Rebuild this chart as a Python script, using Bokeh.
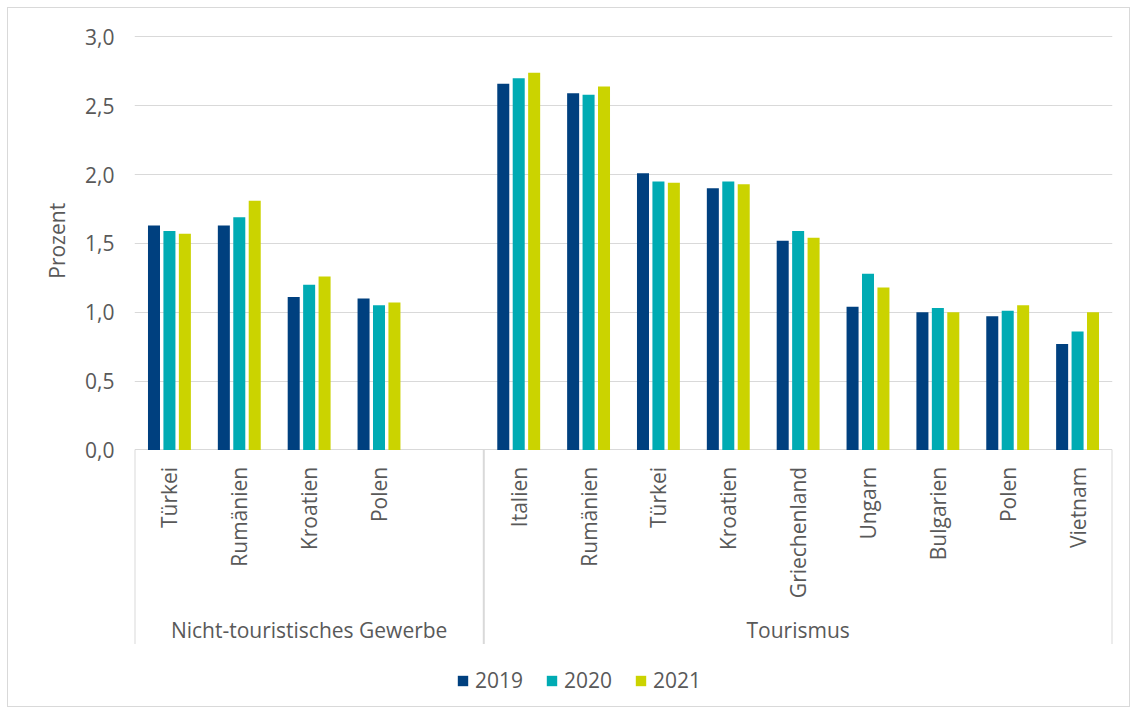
import math
from bokeh.plotting import figure
from bokeh.models import (Range1d, FixedTicker, ColumnDataSource, Legend, LegendItem,
                          CustomJSTickFormatter, Title)
from bokeh.core.properties import value
from bokeh.embed import file_html
from bokeh.resources import INLINE

# ---------------- data ----------------
groups = ["Nicht-touristisches Gewerbe", "Tourismus"]
cats_ntg = ["Türkei", "Rumänien", "Kroatien", "Polen", ""]   # last slot is blank in the original
cats_tour = ["Italien", "Rumänien", "Türkei", "Kroatien", "Griechenland",
             "Ungarn", "Bulgarien", "Polen", "Vietnam"]
years = ["2019", "2020", "2021"]

ntg_2019 = [1.63, 1.63, 1.11, 1.10]
ntg_2020 = [1.59, 1.69, 1.20, 1.05]
ntg_2021 = [1.57, 1.81, 1.26, 1.07]

tour_2019 = [2.66, 2.59, 2.01, 1.90, 1.52, 1.04, 1.00, 0.97, 0.77]
tour_2020 = [2.70, 2.58, 1.95, 1.95, 1.59, 1.28, 1.03, 1.01, 0.86]
tour_2021 = [2.74, 2.64, 1.94, 1.93, 1.54, 1.18, 1.00, 1.05, 1.00]

y_ticks = [0.0, 0.5, 1.0, 1.5, 2.0, 2.5, 3.0]
y_label = "Prozent"

# ---------------- style ----------------
FONT = "Open Sans"
FS = "21px"
TXT = "#595959"
GRID = "#d9d9d9"
COLORS = ["#00407F", "#00ABB3", "#CBD300"]
BAR_W = 0.172
BAR_STEP = 0.221

W, H = 1123, 700
FRAME_L, FRAME_R = 126, 1104
FRAME_T, FRAME_B = 27, 692
PX_PER_UNIT = 137.67
Y_END = 3.01
Y_START = Y_END - (FRAME_B - FRAME_T) / PX_PER_UNIT
YLABEL_HALF_LEN = 40.5   # half the rendered length of the rotated axis title, px

def px_below(px):
    """data y for a point px pixels below the zero line"""
    return -px / PX_PER_UNIT

n1, n2 = len(cats_ntg), len(cats_tour)
n = n1 + n2
all_labels = cats_ntg + cats_tour
centers = [i + 0.5 for i in range(n)]

p = figure(width=W, height=H, x_range=Range1d(0, n), y_range=Range1d(Y_START, Y_END),
           output_backend="svg", toolbar_location=None, x_axis_location=None,
           min_border_left=FRAME_L, min_border_right=W - FRAME_R,
           min_border_top=FRAME_T, min_border_bottom=H - FRAME_B)
p.styles = {"border": "1px solid #d9d9d9", "margin-left": "7px", "margin-top": "7px"}
p.outline_line_color = None
p.xgrid.visible = False
p.background_fill_color = "white"
p.border_fill_color = "white"

# y axis
ax = p.yaxis[0]
ax.ticker = FixedTicker(ticks=y_ticks)
ax.formatter = CustomJSTickFormatter(code="return tick.toFixed(1).replace('.', ',');")
ax.axis_line_color = None
ax.major_tick_line_color = None
ax.minor_tick_line_color = None
ax.major_label_text_font = FONT
ax.major_label_text_font_size = FS
ax.major_label_text_color = TXT
ax.major_label_standoff = 14
p.ygrid.grid_line_color = GRID
p.ygrid.grid_line_width = 1

# y-axis title, placed so it is centred on the value range (0..3) rather than the frame
range_mid_px = (Y_END - (y_ticks[0] + y_ticks[-1]) / 2) * PX_PER_UNIT
p.add_layout(Title(text=y_label, align="right", offset=range_mid_px - YLABEL_HALF_LEN,
                   standoff=24, text_font=FONT, text_font_size=FS,
                   text_font_style="normal", text_color=TXT), "left")

# bars
series = [(ntg_2019, tour_2019), (ntg_2020, tour_2020), (ntg_2021, tour_2021)]
renderers = []
for j, (g1, g2) in enumerate(series):
    off = (j - 1) * BAR_STEP
    xs = [i + 0.5 + off for i in range(len(g1))] + [n1 + i + 0.5 + off for i in range(len(g2))]
    tops = list(g1) + list(g2)
    src = ColumnDataSource(dict(x=xs, top=tops))
    r = p.vbar(x="x", top="top", bottom=0, width=BAR_W, source=src,
               fill_color=COLORS[j], line_color=None)
    renderers.append(r)

# category labels (rotated)
p.text(x=centers, y=[px_below(17)] * n, text=all_labels, angle=math.pi / 2,
       text_align="right", text_baseline="middle", text_font=value(FONT),
       text_font_size=FS, text_color=TXT)

# group labels
p.text(x=[n1 / 2, n1 + n2 / 2], y=[px_below(180)] * 2, text=groups,
       text_align="center", text_baseline="middle", text_font=value(FONT),
       text_font_size=FS, text_color=TXT)

# group separators
bounds = [0, n1, n]
p.segment(x0=bounds, y0=[0] * 3, x1=bounds, y1=[px_below(194)] * 3,
          line_color=GRID, line_width=2)

# legend
legend = Legend(items=[LegendItem(label=years[j], renderers=[renderers[j]]) for j in range(3)],
                orientation="horizontal", location=(322, 6),
                glyph_width=13, glyph_height=13, label_standoff=6, spacing=22,
                padding=0, margin=0, border_line_color=None, background_fill_alpha=0,
                label_text_font=FONT, label_text_font_size=FS, label_text_color=TXT)
p.add_layout(legend)

open("out.html", "w").write(file_html(p, INLINE))
